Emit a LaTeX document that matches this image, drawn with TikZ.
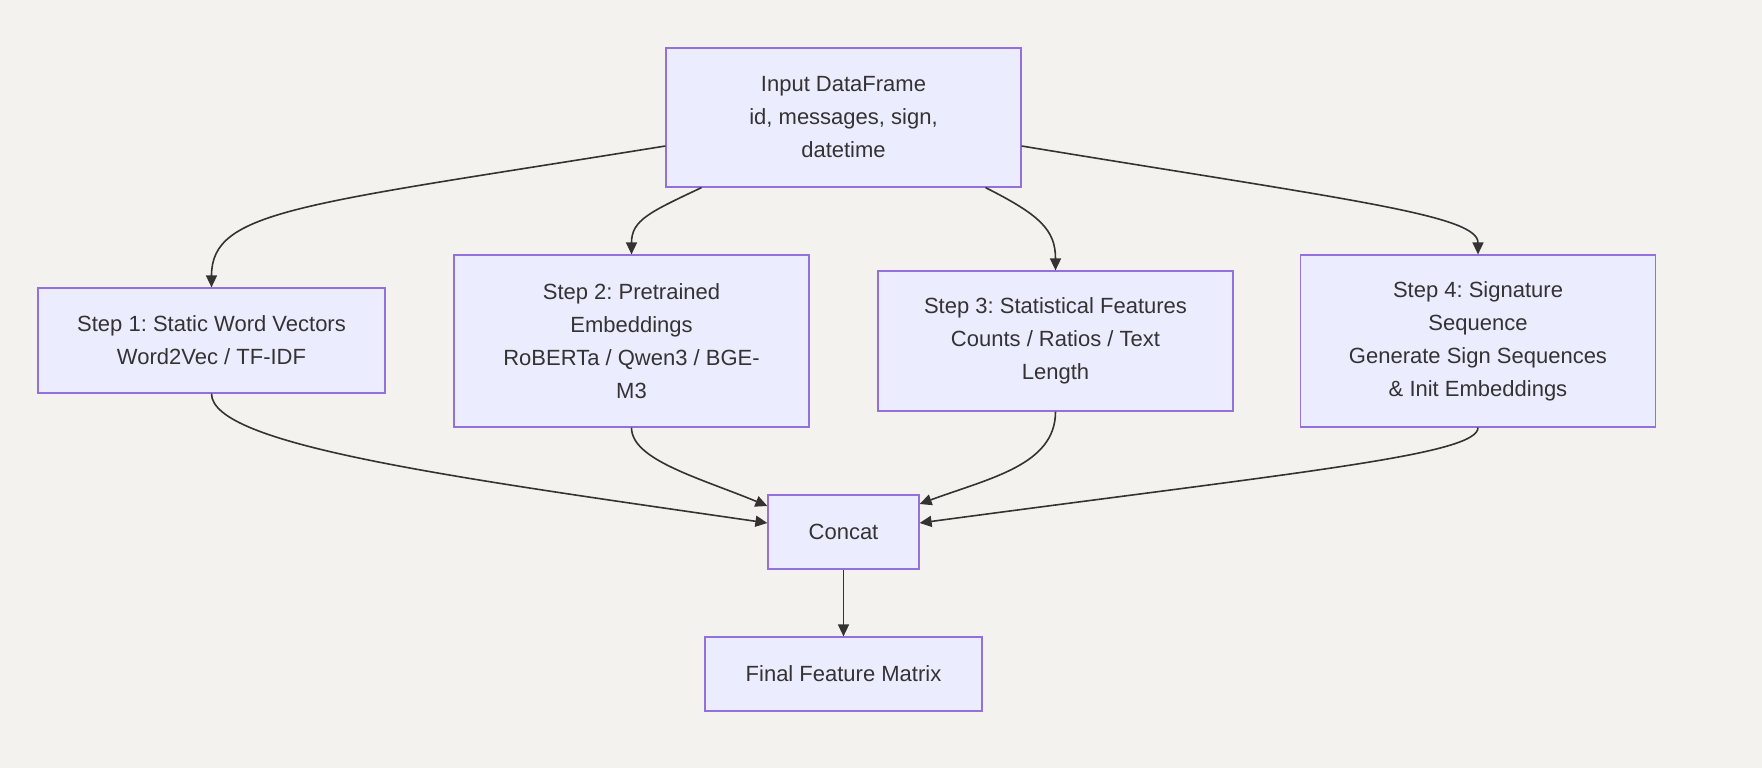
\documentclass[tikz,border=0pt]{standalone}
\usepackage{fontspec}
\setmainfont{Liberation Sans}
\usetikzlibrary{arrows.meta,calc}
\definecolor{bgc}{HTML}{F3F2EE}
\definecolor{nodefill}{HTML}{ECECFF}
\definecolor{nodeline}{HTML}{9370DB}
\definecolor{edgec}{HTML}{333333}
\frenchspacing
\tikzset{
  box/.style={draw=nodeline, fill=nodefill, line width=1.2pt, text=edgec,
    align=center, inner sep=0pt, font=\fontsize{22}{33}\selectfont},
  link/.style={draw=edgec, line width=1.6pt, -{Triangle[length=12pt,width=11pt]}}
}
\begin{document}
\begin{tikzpicture}[x=1pt,y=-1pt]
\fill[bgc] (0,0) rectangle (1762,768);
\useasboundingbox (0,0) rectangle (1762,768);

\node[box, minimum width=355pt, minimum height=139pt] (input) at (843.5,117.5)
  {Input DataFrame\\id, messages, sign,\\datetime};
\node[box, minimum width=347pt, minimum height=105pt] (s1) at (211.5,340.5)
  {Step 1: Static Word Vectors\\Word2Vec / TF-IDF};
\node[box, minimum width=355pt, minimum height=172pt] (s2) at (631.5,341)
  {Step 2: Pretrained\\Embeddings\\RoBERTa / Qwen3 / BGE-\\M3};
\node[box, minimum width=355pt, minimum height=140pt] (s3) at (1055.5,341)
  {Step 3: Statistical Features\\Counts / Ratios / Text\\Length};
\node[box, minimum width=355pt, minimum height=172pt] (s4) at (1478,341)
  {Step 4: Signature\\Sequence\\Generate Sign Sequences\\\& Init Embeddings};
\node[box, minimum width=151pt, minimum height=74pt] (concat) at (843.5,532)
  {Concat};
\node[box, minimum width=277pt, minimum height=74pt] (final) at (843.5,674)
  {Final Feature Matrix};

% Input -> steps
\draw[link] ($(input.west)+(0,28.5)$) .. controls (300,205) and (211.5,210) .. (s1.north);
\draw[link] ($(input.south)+(-142,0)$) .. controls (650,212) and (631.5,220) .. (s2.north);
\draw[link] ($(input.south)+(142,0)$) .. controls (1040,215) and (1055.5,230) .. (s3.north);
\draw[link] ($(input.east)+(0,28.5)$) .. controls (1350,200) and (1478,215) .. (s4.north);

% steps -> concat
\draw[link] (s1.south) .. controls (211.5,445) and (450,477) .. ($(concat.west)+(0,-9)$);
\draw[link] (s2.south) .. controls (631.5,460) and (700,478) .. ($(concat.west)+(0,-26)$);
\draw[link] (s3.south) .. controls (1055.5,465) and (990,478) .. ($(concat.east)+(0,-28)$);
\draw[link] (s4.south) .. controls (1478,455) and (1300,472) .. ($(concat.east)+(0,-9)$);

% concat -> final
\draw[link] (concat.south) -- (final.north);
\end{tikzpicture}
\end{document}
